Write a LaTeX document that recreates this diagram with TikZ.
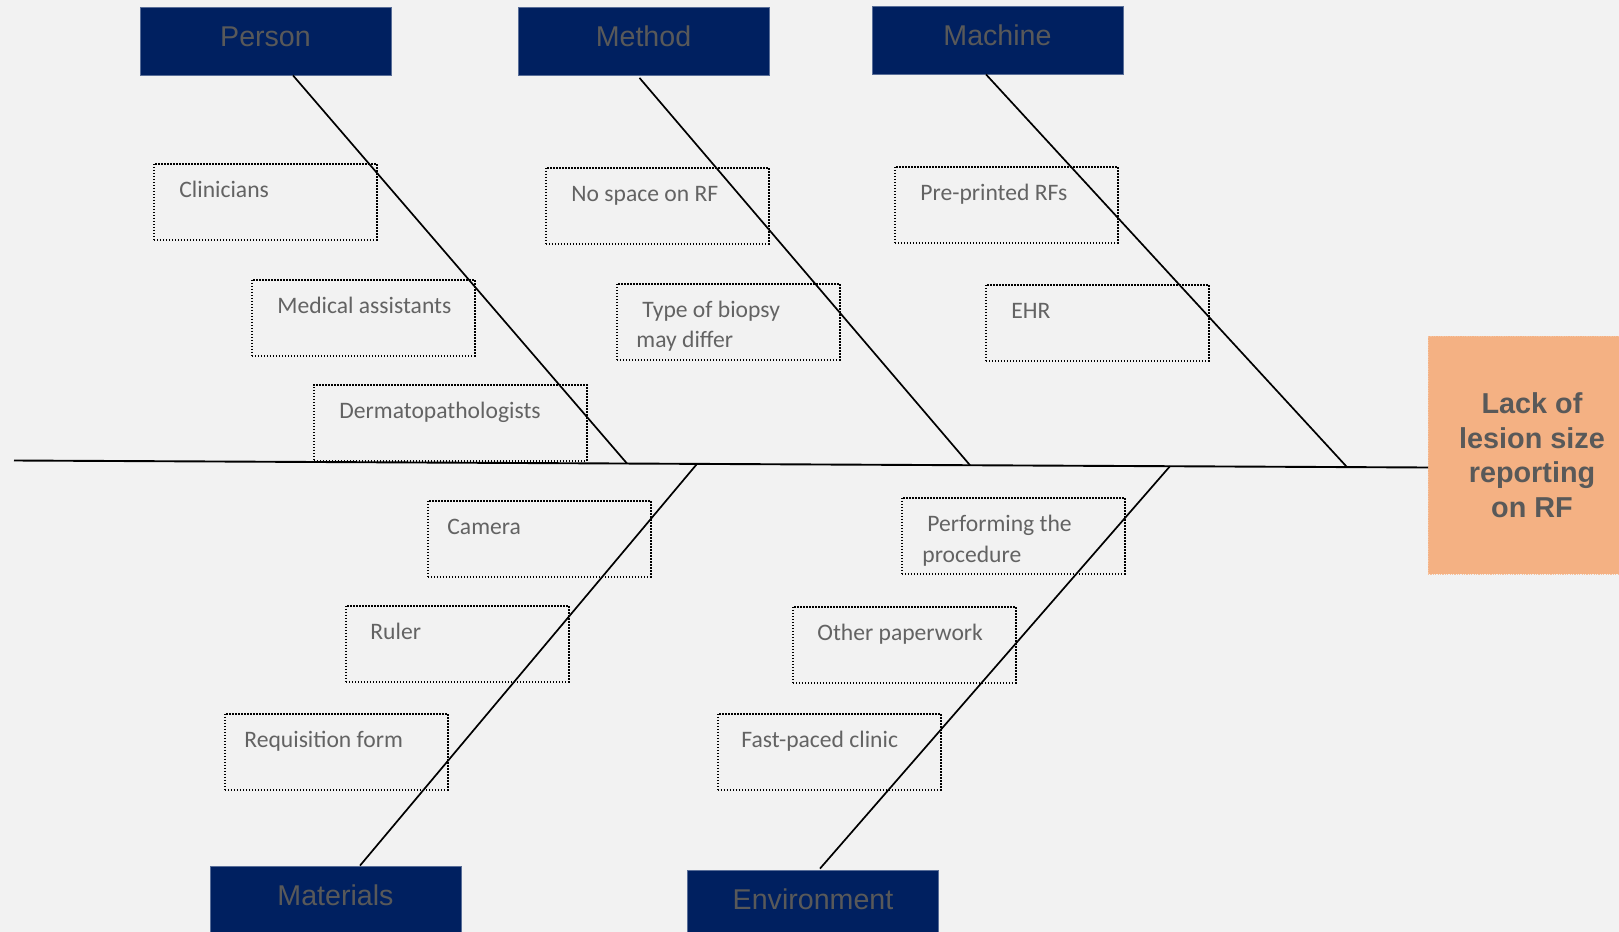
\documentclass[tikz,border=0pt]{standalone}
\usepackage{fontspec}
\setmainfont{Carlito}
\newfontfamily\arialfont{Liberation Sans}
\usetikzlibrary{calc}
\definecolor{bg}{HTML}{F2F2F2}
\definecolor{navy}{HTML}{002060}
\definecolor{hdtxt}{HTML}{595959}
\definecolor{cstxt}{HTML}{636363}
\definecolor{salmon}{HTML}{F4B183}
\begin{document}
\begin{tikzpicture}[x=0.5pt,y=-0.5pt,
  header/.style={fill=navy, draw=navy!65!white, line width=0.4pt,
    minimum width=125.5pt, minimum height=34pt, inner sep=0pt,
    text=hdtxt, font=\arialfont\fontsize{14.3pt}{17pt}\selectfont,
    text height=10.2pt, text depth=5pt},
  cause/.style={draw=black, line width=0.75pt, dash pattern=on 0.75pt off 0.75pt,
    minimum width=111.5pt, minimum height=38pt, inner sep=0pt, anchor=north west},
  ctext/.style={anchor=base west, inner sep=0pt, text=cstxt,
    font=\fontsize{11.8pt}{14pt}\selectfont},
  effect/.style={fill=salmon, draw=salmon!80!white, line width=0.4pt,
    dash pattern=on 0.6pt off 0.6pt,
    minimum width=104pt, minimum height=119pt, inner sep=0pt, align=center,
    text=hdtxt, font=\arialfont\bfseries\fontsize{14.4pt}{17.25pt}\selectfont},
  bone/.style={line width=0.85pt, black},
  spine/.style={line width=0.95pt, black}]
\useasboundingbox (0,0) rectangle (1619,932);
\fill[bg] (0,0) rectangle (1619,932);
\clip (0,0) rectangle (1619,932);

% effect
\node[effect] (ef) at (1532,455) {Lack of\\lesion size\\reporting\\on RF};

% spine
\coordinate (tail) at (14,460.5);
\coordinate (head) at (1428,467.5);
\draw[spine] (tail) -- (head);

% headers
\node[header] (pe) at (265.5,41) {Person};
\node[header] (me) at (643.5,41.5) {Method};
\node[header] (ma) at (997.5,40) {Machine};
\node[header] (mt) at (335.5,900) {Materials};
\node[header] (en) at (813,904) {Environment};

% junctions on spine
\coordinate (jpe) at (627,463.5);
\coordinate (jme) at (970,465.2);
\coordinate (jma) at (1347,467.1);
\coordinate (jmt) at (697,463.9);
\coordinate (jen) at (1170,466.2);

% cause boxes
\node[cause] (c1) at (153,163) {};
\node[ctext] at ($(c1.north west)+(26,34)$) {Clinicians};
\node[cause] (c2) at (251,279) {};
\node[ctext] at ($(c2.north west)+(26,34)$) {Medical assistants};
\node[cause, minimum width=136.5pt] (c3) at (313,384) {};
\node[ctext] at ($(c3.north west)+(26,34)$) {Dermatopathologists};

\node[cause] (c4) at (545,167) {};
\node[ctext] at ($(c4.north west)+(26,34)$) {No space on RF};
\node[cause] (c5) at (616,283) {};
\node[ctext] at ($(c5.north west)+(26,34)$) {Type of biopsy};
\node[ctext] at ($(c5.north west)+(20,64.5)$) {may differ};

\node[cause] (c6) at (894,166) {};
\node[ctext] at ($(c6.north west)+(26,34)$) {Pre-printed RFs};
\node[cause] (c7) at (985,284) {};
\node[ctext] at ($(c7.north west)+(26,34)$) {EHR};

\node[cause] (c8) at (427,500) {};
\node[ctext] at ($(c8.north west)+(20,34)$) {Camera};
\node[cause] (c9) at (345,605) {};
\node[ctext] at ($(c9.north west)+(25,34)$) {Ruler};
\node[cause] (c10) at (224,713) {};
\node[ctext] at ($(c10.north west)+(20,34)$) {Requisition form};

\node[cause] (c11) at (901,497) {};
\node[ctext] at ($(c11.north west)+(26,34.5)$) {Performing the};
\node[ctext] at ($(c11.north west)+(21,65)$) {procedure};
\node[cause] (c12) at (792,606) {};
\node[ctext] at ($(c12.north west)+(25,34)$) {Other paperwork};
\node[cause] (c13) at (717,713) {};
\node[ctext] at ($(c13.north west)+(24,34)$) {Fast-paced clinic};

% bones
\draw[bone] ($(pe.south)+(27.5,0)$) -- (jpe);
\draw[bone] ($(me.south)+(-4,2)$) -- (jme);
\draw[bone] ($(ma.south)+(-11.5,0)$) -- (jma);
\draw[bone] ($(mt.north)+(24.5,0)$) -- (jmt);
\draw[bone] ($(en.north)+(7,-1)$) -- (jen);
\end{tikzpicture}
\end{document}
